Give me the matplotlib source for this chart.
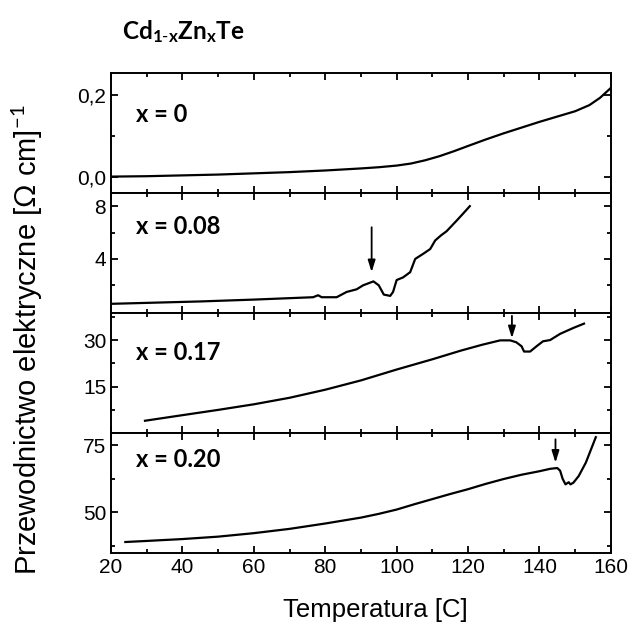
import matplotlib
matplotlib.use("Agg")
import matplotlib.pyplot as plt
from matplotlib.ticker import FixedLocator, FuncFormatter

plt.rcParams["font.family"] = ["Liberation Sans", "DejaVu Sans"]
plt.rcParams["mathtext.fontset"] = "custom"
plt.rcParams["mathtext.rm"] = "Lato"
plt.rcParams["mathtext.bf"] = "Lato:bold"

# conductivity vs temperature, one panel per composition
t0 = [20, 30, 40, 50, 60, 70, 80, 90, 95, 100, 104, 108, 112, 116, 120, 125, 130, 135, 140, 145, 150, 154, 157, 160]
s0 = [0.0, 0.001, 0.003, 0.005, 0.008, 0.011, 0.015, 0.020, 0.023, 0.027, 0.032, 0.040, 0.050, 0.062, 0.075,
      0.091, 0.106, 0.120, 0.134, 0.147, 0.160, 0.175, 0.193, 0.217]

t1 = [20, 45, 60, 76.6, 78, 79, 83.2, 86, 88.8, 90.6, 93.5, 95, 96.4, 98.2, 99, 100, 101.8, 103.8, 105.2, 107.5,
      109.4, 110.8, 112.5, 114, 116.8, 118.5, 120.5]
s1 = [0.6, 0.78, 0.92, 1.1, 1.25, 1.1, 1.1, 1.5, 1.7, 2.0, 2.3, 2.0, 1.3, 1.2, 1.5, 2.4, 2.6, 3.0, 4.0, 4.4,
      4.75, 5.4, 5.8, 6.1, 6.9, 7.4, 8.0]

t2 = [29.5, 40, 50, 60, 70, 80, 90, 100, 110, 118, 124, 129, 131.8, 133.5, 135, 135.7, 137.4, 139.2, 141, 143,
      145.8, 149.5, 152.5]
s2 = [4.0, 5.8, 7.5, 9.3, 11.4, 14.0, 17.0, 20.5, 23.8, 26.6, 28.5, 29.9, 29.9, 29.3, 28.0, 26.3, 26.3, 28.0,
      29.6, 30.0, 32.0, 33.9, 35.3]

t3 = [24, 30, 40, 50, 60, 70, 80, 90, 95, 100, 105, 110, 115, 120, 125, 130, 135, 140, 143, 145, 145.8, 146.5,
      147.3, 148.2, 148.7, 149.5, 151, 153, 155.8]
s3 = [38.9, 39.3, 40.0, 40.9, 42.2, 43.8, 45.8, 48.0, 49.4, 51.0, 53.0, 54.9, 56.8, 58.6, 60.6, 62.4, 64.0, 65.3,
      66.2, 66.5, 65.5, 62.5, 60.4, 61.2, 60.4, 61.0, 63.5, 68.5, 78.0]

labels = ["x = 0", "x = 0.08", "x = 0.17", "x = 0.20"]
ylims = [(-0.04, 0.254), (-0.1, 9.0), (0.0, 38.7), (34.7, 79.5)]
major = [[0.0, 0.2], [4, 8], [15, 30], [50, 75]]
minor = [[0.1], [2, 6], [7.5, 22.5, 37.5], [37.5, 62.5]]
label_y = [0.65, 0.72, 0.675, 0.78]

# arrows: (temperature, tail value, tip value) per panel
arrows = [None, (93, 6.4, 3.0), (132.3, 37.8, 30.6), (144.5, 77.2, 68.5)]

series = [(t0, s0), (t1, s1), (t2, s2), (t3, s3)]

fig = plt.figure(figsize=(6.31, 6.28), dpi=100)
gs = fig.add_gridspec(4, 1, left=0.176, right=0.968, bottom=0.119, top=0.884, hspace=0)

for i, (t, s) in enumerate(series):
    ax = fig.add_subplot(gs[i])
    ax.plot(t, s, color="black", lw=1.6)
    ax.set_xlim(20, 160)
    ax.set_ylim(*ylims[i])
    ax.set_xticks(range(20, 161, 20))
    ax.set_xticks(range(30, 160, 20), minor=True)
    ax.yaxis.set_major_locator(FixedLocator(major[i]))
    ax.yaxis.set_minor_locator(FixedLocator(minor[i]))
    ax.tick_params(which="both", direction="in", top=True, right=True, width=1.3, labelsize=15)
    ax.tick_params(which="major", length=5)
    ax.tick_params(which="minor", length=3)
    for sp in ax.spines.values():
        sp.set_linewidth(1.4)
    if i == 0:
        ax.yaxis.set_major_formatter(FuncFormatter(lambda v, p: f"{v:.1f}".replace(".", ",")))
    else:
        ax.yaxis.set_major_formatter(FuncFormatter(lambda v, p: f"{v:g}"))
    if i < 3:
        ax.tick_params(labelbottom=False)
    ax.text(0.05, label_y[i], labels[i], transform=ax.transAxes, fontsize=17,
            fontweight="bold", family="Lato", va="center")
    if arrows[i] is not None:
        xa, ytail, ytip = arrows[i]
        ax.annotate("", xy=(xa, ytip), xytext=(xa, ytail),
                    arrowprops=dict(arrowstyle="-|>,head_length=0.7,head_width=0.22",
                                    color="black", lw=1.3, shrinkA=0, shrinkB=0))
    if i == 3:
        ax.set_xlabel("Temperatura [C]", fontsize=18.5)
        ax.xaxis.set_label_coords(0.528, -0.37)

fig.text(0.043, 0.459, r"Przewodnictwo elektryczne [$\Omega$ cm]$^{-1}$", rotation=90,
         fontsize=21, ha="center", va="center")
fig.text(0.193, 0.949, r"$\mathbf{Cd_{1\text{-}x}Zn_{x}Te}$", fontsize=17.5, va="center")

fig.savefig("out.png", dpi=100)
